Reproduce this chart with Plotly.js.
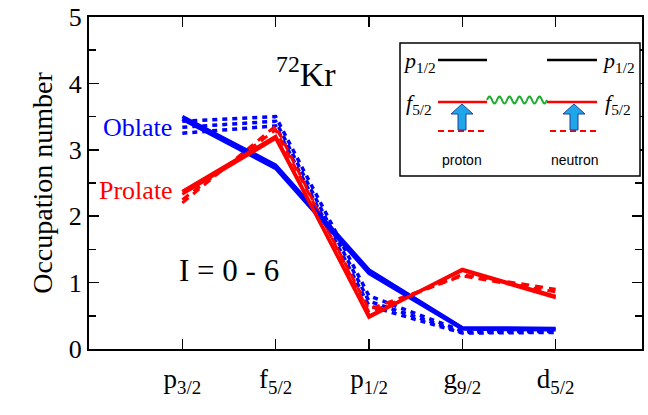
<!DOCTYPE html>
<html>
<head>
<meta charset="utf-8">
<script src="https://cdn.plot.ly/plotly-3.0.1.min.js"></script>
<style>html,body{margin:0;padding:0;background:#fff;}#chart{width:648px;height:415px;}</style>
</head>
<body>
<div id="chart"></div>
<script>
// ---- data ----
const orbitals = [0, 1, 2, 3, 4];
const tickLabels = ["p<sub>3/2</sub>", "f<sub>5/2</sub>", "p<sub>1/2</sub>", "g<sub>9/2</sub>", "d<sub>5/2</sub>"];

const oblateSolidA = [3.50, 2.77, 1.19, 0.32, 0.31];
const oblateSolidB = [3.46, 2.72, 1.14, 0.30, 0.29];
const oblateDotA   = [3.43, 3.50, 0.80, 0.27, 0.27];
const oblateDotB   = [3.34, 3.43, 0.72, 0.25, 0.26];
const oblateDotC   = [3.25, 3.36, 0.65, 0.24, 0.25];

const prolateSolidA = [2.37, 3.20, 0.48, 1.20, 0.79];
const prolateSolidB = [2.33, 3.17, 0.50, 1.18, 0.77];
const prolateDashA  = [2.20, 3.36, 0.55, 1.12, 0.90];
const prolateDashB  = [2.25, 3.30, 0.60, 1.10, 0.86];

const BLUE = "#0000ff", RED = "#ff0000";
const SERIF = "'Liberation Serif', serif";

function tr(y, color, dash, w) {
  return {x: orbitals, y: y, type: "scatter", mode: "lines",
          line: {color: color, width: w, dash: dash}, showlegend: false, hoverinfo: "skip"};
}

const data = [
  tr(oblateDotA, BLUE, "5px,5px", 3.5),
  tr(oblateDotB, BLUE, "5px,5px", 3.5),
  tr(oblateDotC, BLUE, "5px,5px", 3.5),
  tr(prolateDashA, RED, "8px,6px", 3),
  tr(prolateDashB, RED, "8px,6px", 3),
  tr(oblateSolidA, BLUE, "solid", 3.5),
  tr(oblateSolidB, BLUE, "solid", 3.5),
  tr(prolateSolidA, RED, "solid", 3.5),
  tr(prolateSolidB, RED, "solid", 3),
];

// ---- inset (paper coordinates from pixel positions) ----
const L = 89, R = 642, T = 17, B = 349;
const px = v => (v - L) / (R - L);
const py = v => (B - v) / (B - T);

const shapes = [];
shapes.push({type: "rect", xref: "paper", yref: "paper", x0: px(400), x1: px(640), y0: py(176), y1: py(43),
             line: {color: "#000", width: 1.5}, fillcolor: "#fff", layer: "above"});
function hline(x0, x1, y, color, dash, w) {
  shapes.push({type: "line", xref: "paper", yref: "paper", x0: px(x0), x1: px(x1), y0: py(y), y1: py(y),
               line: {color: color, width: w, dash: dash}, layer: "above"});
}
hline(438, 487, 60, "#000", "solid", 2.5);
hline(547, 597, 60, "#000", "solid", 2.5);
hline(438, 487, 102, RED, "solid", 2.5);
hline(547, 597, 102, RED, "solid", 2.5);
hline(438, 487, 131, RED, "6px,4px", 2);
hline(550, 597, 131, RED, "6px,4px", 2);

// wavy line
let wp = "";
for (let i = 0; i <= 120; i++) {
  const xx = 487 + i * 0.5;
  const yy = 100 - 3.5 * Math.sin((xx - 487) / 10 * 2 * Math.PI);
  wp += (i === 0 ? "M" : "L") + px(xx).toFixed(5) + "," + py(yy).toFixed(5);
}
shapes.push({type: "path", xref: "paper", yref: "paper", path: wp, line: {color: "#22aa33", width: 2}, layer: "above"});

function arrow(cx) {
  const pts = [[cx - 4, 130], [cx - 4, 114], [cx - 11, 114], [cx, 104], [cx + 11, 114], [cx + 4, 114], [cx + 4, 130]];
  let p = "";
  pts.forEach((q, i) => { p += (i === 0 ? "M" : "L") + px(q[0]).toFixed(5) + "," + py(q[1]).toFixed(5); });
  p += "Z";
  shapes.push({type: "path", xref: "paper", yref: "paper", path: p, fillcolor: "#1fa6e8",
               line: {color: "#1f3f9f", width: 1}, layer: "above"});
}
arrow(462);
arrow(574);

function ann(text, x, y, size, color, family) {
  return {text: text, xref: "paper", yref: "paper", x: px(x), y: py(y), showarrow: false,
          xanchor: "center", yanchor: "middle", font: {family: family || SERIF, size: size, color: color}};
}
const SANS = "'Liberation Sans', Arial, sans-serif";

const annotations = [
  ann("<sup>72</sup>Kr", 306, 72, 34, "#000"),
  ann("Oblate", 137, 127, 26, BLUE),
  ann("Prolate", 136, 190, 26, RED),
  ann("I = 0 - 6", 229, 270, 31, "#000"),
  ann("<i>p</i><sub>1/2</sub>", 419, 62, 22, "#000"),
  ann("<i>p</i><sub>1/2</sub>", 618, 62, 22, "#000"),
  ann("<i>f</i><sub>5/2</sub>", 419, 104, 22, "#000"),
  ann("<i>f</i><sub>5/2</sub>", 618, 104, 22, "#000"),
  ann("proton", 462, 160, 14, "#000", SANS),
  ann("neutron", 574, 160, 14, "#000", SANS),
];

const layout = {
  width: 648, height: 415,
  margin: {l: L, r: 648 - R, t: T, b: 415 - B},
  paper_bgcolor: "#fff", plot_bgcolor: "#fff",
  showlegend: false,
  xaxis: {
    range: [-1, 4.925], tickvals: orbitals, ticktext: tickLabels,
    showgrid: false, zeroline: false, showline: true, linecolor: "#000", linewidth: 2, mirror: "ticks",
    ticks: "inside", ticklen: 10, tickwidth: 1.5, tickcolor: "#000",
    ticklabelstandoff: 5,
    tickfont: {family: SERIF, size: 27, color: "#000"}
  },
  yaxis: {
    range: [0, 5], tickvals: [0, 1, 2, 3, 4, 5],
    showgrid: false, zeroline: false, showline: true, linecolor: "#000", linewidth: 2, mirror: "ticks",
    ticks: "inside", ticklen: 10, tickwidth: 1.5, tickcolor: "#000",
    minor: {tickvals: [0.5, 1.5, 2.5, 3.5, 4.5], ticks: "inside", ticklen: 7, tickwidth: 1.5, tickcolor: "#000"},
    tickfont: {family: SERIF, size: 26, color: "#000"},
    title: {text: "Occupation number", font: {family: SERIF, size: 28, color: "#000"}, standoff: 8}
  },
  shapes: shapes,
  annotations: annotations
};

Plotly.newPlot("chart", data, layout, {displayModeBar: false, staticPlot: true});
</script>
</body>
</html>
